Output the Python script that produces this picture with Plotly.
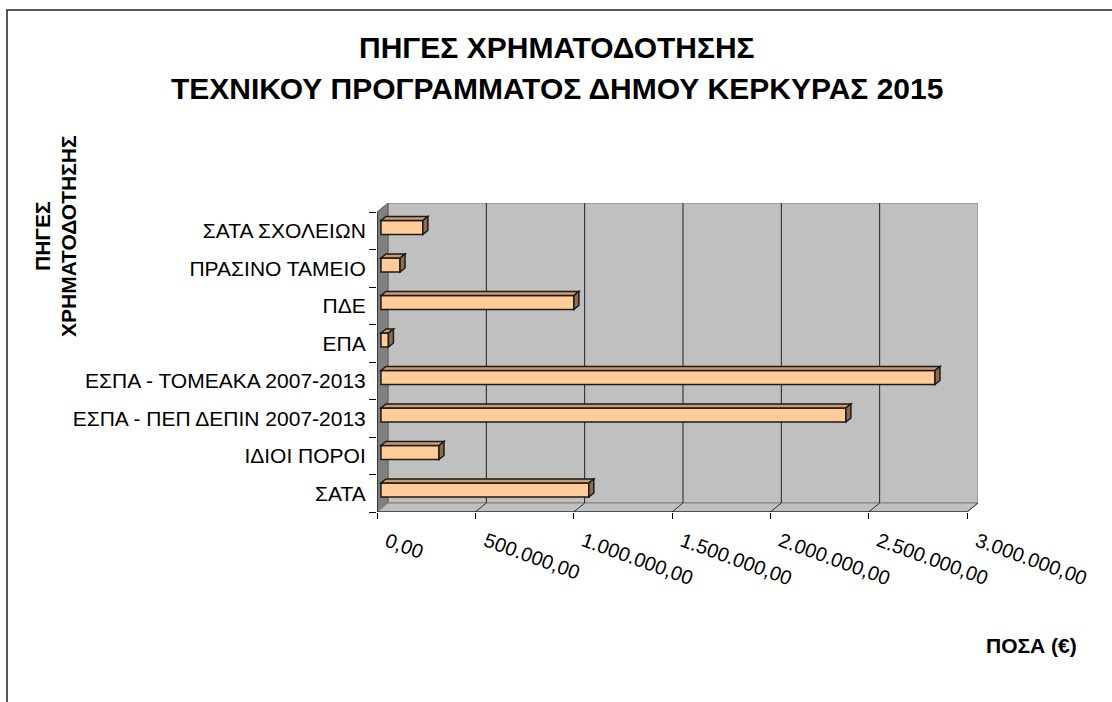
import plotly.graph_objects as go

# data (bottom to top, as drawn)
categories = [
    "ΣΑΤΑ",
    "ΙΔΙΟΙ ΠΟΡΟΙ",
    "ΕΣΠΑ - ΠΕΠ ΔΕΠΙΝ 2007-2013",
    "ΕΣΠΑ - ΤΟΜΕΑΚΑ 2007-2013",
    "ΕΠΑ",
    "ΠΔΕ",
    "ΠΡΑΣΙΝΟ ΤΑΜΕΙΟ",
    "ΣΑΤΑ ΣΧΟΛΕΙΩΝ",
]
amounts = [1057000, 295000, 2364000, 2817000, 38000, 981000, 97000, 213000]
tick_values = [0, 500000, 1000000, 1500000, 2000000, 2500000, 3000000]
tick_labels = ["0,00", "500.000,00", "1.000.000,00", "1.500.000,00",
               "2.000.000,00", "2.500.000,00", "3.000.000,00"]

title_lines = ["ΠΗΓΕΣ ΧΡΗΜΑΤΟΔΟΤΗΣΗΣ", "ΤΕΧΝΙΚΟΥ ΠΡΟΓΡΑΜΜΑΤΟΣ ΔΗΜΟΥ ΚΕΡΚΥΡΑΣ 2015"]
y_title_lines = ["ΠΗΓΕΣ", "ΧΡΗΜΑΤΟΔΟΤΗΣΗΣ"]
x_title = "ΠΟΣΑ (€)"

# geometry (pixels) of the fake 3d box
W, H = 1112, 702
LEFT, BOTTOM = 377, 512          # front corner of the plot
FRONT_W = 590                    # px for the 0..3M front axis
CAT_H = 37.5                     # px per category
DEPTH_PX = (11, 9)               # box depth (right, up)
XMAX = tick_values[-1]

sx = FRONT_W / XMAX              # px per euro
n = len(categories)
depth_x = DEPTH_PX[0] / sx
depth_y = DEPTH_PX[1] / CAT_H
plot_w = FRONT_W + DEPTH_PX[0]
plot_h = n * CAT_H + DEPTH_PX[1]

# bars sit a bit inside the box
bar_f = 0.36
bar_dx = bar_f * depth_x
bar_dy = bar_f * depth_y
bar_w = 14 / CAT_H
face_dx = 5 / sx
face_dy = 4 / CAT_H

FONT = "Liberation Sans, Arial, sans-serif"
EDGE = "#1a1a1a"

fig = go.Figure()
ys = list(range(n))
fig.add_trace(go.Bar(
    y=ys, x=amounts, base=bar_dx, orientation="h",
    width=bar_w, offset=bar_dy - bar_w / 2,
    marker=dict(color="#FFCC99", line=dict(color=EDGE, width=1.5)),
    hovertext=categories, showlegend=False,
))

shapes = []
y_lo, y_hi = -0.5, n - 0.5
# walls
shapes.append(dict(type="rect", layer="below", x0=depth_x, x1=XMAX + depth_x,
                   y0=y_lo + depth_y, y1=y_hi + depth_y,
                   fillcolor="#C0C0C0", line=dict(color="#808080", width=1)))
shapes.append(dict(type="path", layer="below",
                   path=f"M0,{y_lo} L{depth_x},{y_lo + depth_y} L{depth_x},{y_hi + depth_y} L0,{y_hi} Z",
                   fillcolor="#808080", line=dict(color="#606060", width=1)))
shapes.append(dict(type="path", layer="below",
                   path=f"M0,{y_lo} L{XMAX},{y_lo} L{XMAX + depth_x},{y_lo + depth_y} L{depth_x},{y_lo + depth_y} Z",
                   fillcolor="#C0C0C0", line=dict(color="#808080", width=1)))
# gridlines on back wall and floor
for v in tick_values[1:-1]:
    shapes.append(dict(type="line", layer="below", x0=v + depth_x, x1=v + depth_x,
                       y0=y_lo + depth_y, y1=y_hi + depth_y, line=dict(color="#202020", width=1)))
for v in tick_values[1:]:
    shapes.append(dict(type="line", layer="below", x0=v, x1=v + depth_x,
                       y0=y_lo, y1=y_lo + depth_y, line=dict(color="#303030", width=1)))
# front axes
shapes.append(dict(type="line", x0=0, x1=XMAX, y0=y_lo, y1=y_lo, line=dict(color="black", width=1)))
shapes.append(dict(type="line", x0=0, x1=0, y0=y_lo, y1=y_hi, line=dict(color="black", width=1)))

# top and side faces of each bar
for i, v in enumerate(amounts):
    y0 = i + bar_dy - bar_w / 2
    y1 = y0 + bar_w
    xb, xe = bar_dx, bar_dx + v
    shapes.append(dict(type="path",
                       path=f"M{xb},{y1} L{xb + face_dx},{y1 + face_dy} L{xe + face_dx},{y1 + face_dy} L{xe},{y1} Z",
                       fillcolor="#C99B70", line=dict(color=EDGE, width=1.5)))
    shapes.append(dict(type="path",
                       path=f"M{xe},{y0} L{xe},{y1} L{xe + face_dx},{y1 + face_dy} L{xe + face_dx},{y0 + face_dy} Z",
                       fillcolor="#8C6B4E", line=dict(color=EDGE, width=1.5)))

# outer chart border (paper coords from pixels)
def px_x(p):
    return (p - LEFT) / plot_w


def px_y(p):
    return (BOTTOM - p) / plot_h


shapes.append(dict(type="rect", xref="paper", yref="paper",
                   x0=px_x(7), x1=px_x(W + 10), y0=px_y(10), y1=px_y(H + 10),
                   line=dict(color="#222222", width=1.5)))

annotations = []
for k, line in enumerate(title_lines):
    annotations.append(dict(text=f"<b>{line}</b>", xref="paper", yref="paper",
                            x=px_x(557), y=px_y(47 + 41 * k), showarrow=False,
                            xanchor="center", yanchor="middle",
                            font=dict(family=FONT, size=30, color="black")))
for k, line in enumerate(y_title_lines):
    annotations.append(dict(text=f"<b>{line}</b>", xref="paper", yref="paper",
                            x=px_x(42 + 26 * k), y=px_y(236), showarrow=False, textangle=-90,
                            xanchor="center", yanchor="middle",
                            font=dict(family=FONT, size=21, color="black")))
annotations.append(dict(text=f"<b>{x_title}</b>", xref="paper", yref="paper",
                        x=px_x(1031), y=px_y(645), showarrow=False,
                        xanchor="center", yanchor="middle",
                        font=dict(family=FONT, size=21, color="black")))
# slanted value labels under the front axis
for v, lab in zip(tick_values, tick_labels):
    annotations.append(dict(text=lab, xref="x", yref="paper", x=v, xshift=3,
                            y=px_y(526), showarrow=False, textangle=20,
                            xanchor="left", yanchor="top",
                            font=dict(family=FONT, size=20, color="black")))

fig.update_layout(
    width=W, height=H,
    margin=dict(l=LEFT, r=W - LEFT - plot_w, t=BOTTOM - plot_h, b=H - BOTTOM, pad=0),
    paper_bgcolor="white", plot_bgcolor="white",
    shapes=shapes, annotations=annotations,
    font=dict(family=FONT, size=20, color="black"),
    xaxis=dict(range=[0, XMAX + depth_x], tickvals=tick_values, showticklabels=False,
               ticks="outside", ticklen=6, tickcolor="black",
               showgrid=False, zeroline=False, showline=False),
    yaxis=dict(range=[y_lo, y_hi + depth_y], tickvals=ys, ticktext=categories,
               ticks="outside", ticklen=0, showgrid=False, zeroline=False, showline=False,
               ticklabelstandoff=6,
               minor=dict(tickvals=[i - 0.5 for i in range(n + 1)], ticks="outside",
                          ticklen=7, tickcolor="black", showgrid=False),
               tickfont=dict(family=FONT, size=21)),
)

# page has a default body margin; drop it so the figure sits at 0,0
fig.write_html("out.html", config={"displayModeBar": False},
               post_script="document.body.style.margin='0';document.body.style.overflow='hidden';")
